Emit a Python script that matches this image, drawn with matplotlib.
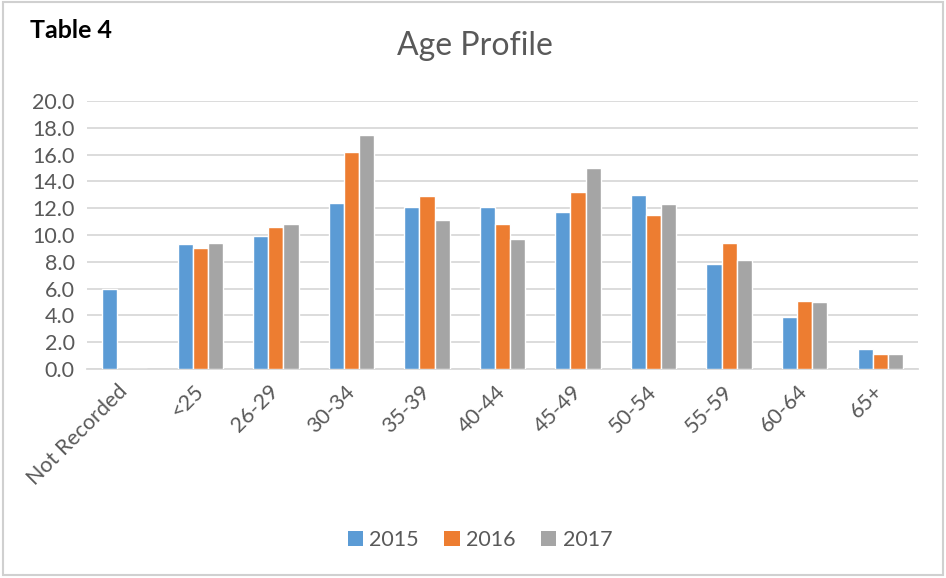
import numpy as np
import matplotlib
matplotlib.use('Agg')
import matplotlib.pyplot as plt
from matplotlib.patches import Rectangle, Patch

plt.rcParams['font.family'] = ['Lato', 'DejaVu Sans']

categories = ['Not Recorded', '<25', '26-29', '30-34', '35-39', '40-44',
              '45-49', '50-54', '55-59', '60-64', '65+']
years = ['2015', '2016', '2017']
vals_2015 = [6.0, 9.3, 9.9, 12.4, 12.1, 12.1, 11.7, 13.0, 7.8, 3.9, 1.5]
vals_2016 = [0.0, 9.0, 10.6, 16.2, 12.9, 10.8, 13.2, 11.5, 9.4, 5.1, 1.1]
vals_2017 = [0.0, 9.4, 10.8, 17.5, 11.1, 9.7, 15.0, 12.3, 8.1, 5.0, 1.1]
yticks = np.arange(0, 20.1, 2.0)

colors = ['#5B9BD5', '#ED7D31', '#A5A5A5']
txt = '#595959'
grid = '#D9D9D9'

fig = plt.figure(figsize=(9.46, 5.78), dpi=100)
ax = fig.add_axes([87/946, 1 - 369/578, (918 - 87)/946, (369 - 101)/578])

x = np.arange(len(categories))
w = 0.2
for i, (series, c) in enumerate(zip([vals_2015, vals_2016, vals_2017], colors)):
    ax.bar(x + (i - 1) * w, series, width=w, color=c, edgecolor='white',
           linewidth=1.0, zorder=3)

ax.set_xlim(-0.5, len(categories) - 0.5)
ax.set_ylim(0, 20)
ax.set_yticks(yticks)
ax.set_yticklabels(['%.1f' % v for v in yticks])
ax.yaxis.grid(True, color=grid, linewidth=1.3, zorder=0)
ax.set_axisbelow(True)
for s in ['top', 'right', 'left']:
    ax.spines[s].set_visible(False)
ax.spines['bottom'].set_color(grid)
ax.spines['bottom'].set_linewidth(1.3)
ax.tick_params(axis='both', length=0, colors=txt, labelsize=15.5)
ax.tick_params(axis='y', pad=9)
ax.set_xticks(x)
ax.set_xticklabels(categories, rotation=45, ha='right', va='center',
                   rotation_mode='anchor')
ax.tick_params(axis='x', pad=14)

fig.text(30/946, 1 - 31/578, 'Table 4', fontsize=18, fontweight='bold',
         color='black', va='center', ha='left')
fig.text(475/946, 1 - 46/578, 'Age Profile', fontsize=23, color=txt,
         va='center', ha='center')

handles = [Patch(facecolor=c, edgecolor='none') for c in colors]
fig.legend(handles, years, loc='center', bbox_to_anchor=(480/946, 1 - 540/578),
           ncol=3, frameon=False, fontsize=15.5, labelcolor=txt,
           handlelength=0.7, handleheight=0.7, handletextpad=0.3,
           columnspacing=1.2)

fig.patches.append(Rectangle((3/946, 3/578), 940/946, 573/578, fill=False,
                             edgecolor='#D0D0D0', linewidth=1.5,
                             transform=fig.transFigure, figure=fig))

fig.savefig('out.png', dpi=100)
